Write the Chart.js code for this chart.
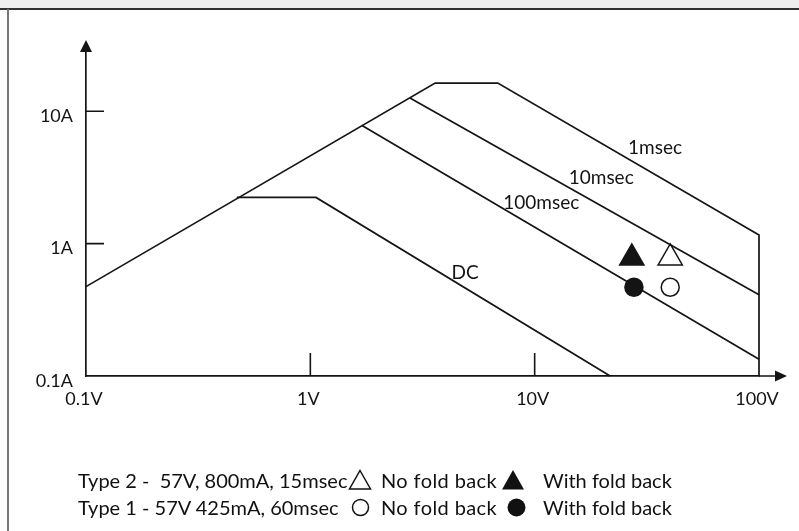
<!DOCTYPE html>
<html>
<head>
<meta charset="utf-8">
<script src="https://cdn.jsdelivr.net/npm/chart.js@4.4.0/dist/chart.umd.min.js"></script>
<style>
  html, body { margin: 0; padding: 0; background: #fff; }
  #wrap { position: relative; width: 799px; height: 531px; overflow: hidden; font-family: Lato, "Liberation Sans", sans-serif; color: #111; }
  #topbar { position: absolute; left: 0; top: 0; width: 799px; height: 8px; background: #efefef; border-bottom: 2px solid #333; }
  #leftline { position: absolute; left: 7px; top: 9px; width: 2px; height: 522px; background: #777; }
  canvas { position: absolute; left: 0; top: 0; }
  .lg { position: absolute; font-size: 20px; line-height: 24px; white-space: pre; }
  .sym { position: absolute; }
</style>
</head>
<body>
<div id="wrap">
  <canvas id="soa" width="799" height="531"></canvas>
  <div id="topbar"></div>
  <div id="leftline"></div>

  <span class="lg" style="left:78px; top:468px;">Type 2 -  57V, 800mA, 15msec</span>
  <svg class="sym" style="left:348px; top:469px;" width="24" height="22"><polygon points="12,1.5 22.5,20 1.5,20" fill="#fff" stroke="#111" stroke-width="1.5"/></svg>
  <span class="lg" style="left:381px; top:468px; letter-spacing:0.4px;">No fold back</span>
  <svg class="sym" style="left:501px; top:469px;" width="24" height="22"><polygon points="12,1 23,20.5 1,20.5" fill="#111"/></svg>
  <span class="lg" style="left:543px; top:468px;">With fold back</span>

  <span class="lg" style="left:78px; top:495px;">Type 1 - 57V 425mA, 60msec</span>
  <svg class="sym" style="left:351px; top:498px;" width="19" height="19"><circle cx="9.5" cy="9.5" r="8" fill="#fff" stroke="#111" stroke-width="1.5"/></svg>
  <span class="lg" style="left:381px; top:495px; letter-spacing:0.4px;">No fold back</span>
  <svg class="sym" style="left:507px; top:498px;" width="19" height="19"><circle cx="9.5" cy="9.5" r="9" fill="#111"/></svg>
  <span class="lg" style="left:543px; top:495px;">With fold back</span>
</div>

<script>
// axes: volts (x) and amps (y), both log
const xTicks = [0.1, 1, 10, 100];
const xTickLabels = ["0.1V", "1V", "10V", "100V"];
const yTicks = [0.1, 1, 10];
const yTickLabels = ["0.1A", "1A", "10A"];

// SOA boundaries
const v1ms = [0.1, 3.6, 6.85, 100, 100];
const a1ms = [0.473, 16.3, 16.3, 1.16, 0.1];
const v10ms = [2.78, 100];
const a10ms = [12.6, 0.41];
const v100ms = [1.70, 100];
const a100ms = [7.8, 0.134];
const vDC = [0.47, 1.06, 21.7];
const aDC = [2.23, 2.23, 0.1];

// measured parts: [with fold back, no fold back]
const type2V = [27.1, 40.2];
const type2A = [0.78, 0.78];
const type1V = [27.7, 40.2];
const type1A = [0.468, 0.468];

// curve names and where they sit
const curveNames = ["1msec", "10msec", "100msec", "DC"];
const curveLabelV = [34.4, 19.8, 10.7, 4.9];
const curveLabelA = [5.3, 3.14, 2.03, 0.60];

const INK = "#141414";

function pts(xs, ys) {
    return xs.map((x, i) => ({ x: x, y: ys[i] }));
}

function lineSet(xs, ys) {
    return {
        data: pts(xs, ys),
        showLine: true,
        borderColor: INK,
        borderWidth: 1.7,
        pointRadius: 0,
        tension: 0,
        clip: false
    };
}

// tick marks inside the axes, arrow heads, curve names
const decor = {
    id: "decor",
    afterDatasetsDraw(chart) {
        const ctx = chart.ctx;
        const xs = chart.scales.x, ys = chart.scales.y;
        const a = chart.chartArea;
        ctx.save();
        ctx.strokeStyle = INK;
        ctx.fillStyle = INK;
        ctx.lineWidth = 1.6;

        ctx.beginPath();
        [1, 10].forEach(v => {
            const py = ys.getPixelForValue(v);
            ctx.moveTo(a.left, py);
            ctx.lineTo(a.left + 18, py);
            const px = xs.getPixelForValue(v);
            ctx.moveTo(px, a.bottom);
            ctx.lineTo(px, a.bottom - 23);
        });
        // axis extensions
        ctx.moveTo(a.left, a.top);
        ctx.lineTo(a.left, a.top - 4);
        ctx.moveTo(a.right, a.bottom);
        ctx.lineTo(a.right + 18, a.bottom);
        ctx.stroke();

        ctx.beginPath();
        ctx.moveTo(a.left, a.top - 8);
        ctx.lineTo(a.left - 6, a.top + 4);
        ctx.lineTo(a.left + 6, a.top + 4);
        ctx.closePath();
        ctx.fill();

        ctx.beginPath();
        ctx.moveTo(a.right + 28, a.bottom);
        ctx.lineTo(a.right + 16, a.bottom - 5.5);
        ctx.lineTo(a.right + 16, a.bottom + 5.5);
        ctx.closePath();
        ctx.fill();

        ctx.font = "19px Lato";
        ctx.textAlign = "center";
        ctx.textBaseline = "middle";
        curveNames.forEach((name, i) => {
            ctx.fillText(name, xs.getPixelForValue(curveLabelV[i]), ys.getPixelForValue(curveLabelA[i]));
        });
        ctx.restore();
    }
};

Chart.defaults.font.family = "Lato";
Chart.defaults.color = INK;

new Chart(document.getElementById("soa"), {
    type: "scatter",
    data: {
        datasets: [
            lineSet(v1ms, a1ms),
            lineSet(v10ms, a10ms),
            lineSet(v100ms, a100ms),
            lineSet(vDC, aDC),
            {
                data: pts(type2V, type2A),
                pointStyle: "triangle",
                pointRadius: 14,
                backgroundColor: [INK, "#fff"],
                borderColor: INK,
                borderWidth: 1.5
            },
            {
                data: pts(type1V, type1A),
                pointStyle: "circle",
                pointRadius: 9,
                backgroundColor: [INK, "#fff"],
                borderColor: INK,
                borderWidth: 1.5
            }
        ]
    },
    options: {
        responsive: false,
        animation: false,
        devicePixelRatio: 1,
        events: [],
        layout: { padding: { left: 0, right: 40, top: 48, bottom: 115 } },
        plugins: { legend: { display: false }, tooltip: { enabled: false } },
        scales: {
            x: {
                type: "logarithmic",
                min: 0.1,
                max: 100,
                grid: { display: false, drawTicks: false },
                border: { display: true, color: INK, width: 1.7 },
                afterBuildTicks: s => { s.ticks = xTicks.map(v => ({ value: v })); },
                afterFit: s => { s.height = 40; },
                ticks: {
                    autoSkip: false,
                    maxRotation: 0,
                    padding: 12,
                    labelOffset: -2,
                    font: { size: 18 },
                    callback: (v, i) => xTickLabels[i]
                }
            },
            y: {
                type: "logarithmic",
                min: 0.1,
                max: 30,
                grid: { display: false, drawTicks: false },
                border: { display: true, color: INK, width: 1.7 },
                afterBuildTicks: s => { s.ticks = yTicks.map(v => ({ value: v })); },
                afterFit: s => { s.width = 86; },
                ticks: {
                    autoSkip: false,
                    padding: 13,
                    labelOffset: 5,
                    font: { size: 18 },
                    callback: (v, i) => yTickLabels[i]
                }
            }
        }
    },
    plugins: [decor]
});
</script>
</body>
</html>
